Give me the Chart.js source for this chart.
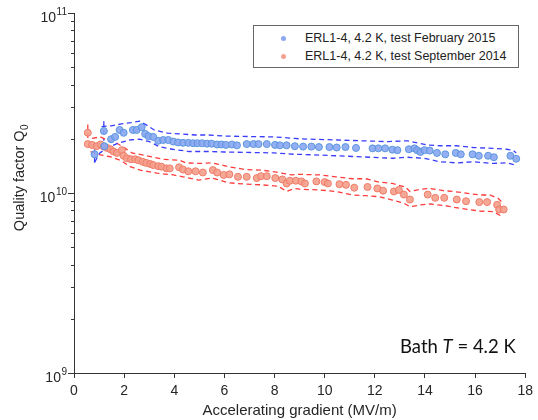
<!DOCTYPE html>
<html><head><meta charset="utf-8">
<script src="https://cdn.jsdelivr.net/npm/chart.js@4.4.0/dist/chart.umd.min.js"></script>
<style>
html,body{margin:0;padding:0;background:#fff;}
#wrap{position:relative;width:538px;height:420px;overflow:hidden;}
#c{position:absolute;left:0;top:0;}
#legend{position:absolute;left:253px;top:25px;width:264px;height:41px;border:1px solid #666;background:#fff;font-family:"Liberation Sans",Arial,sans-serif;font-size:12.5px;color:#222;}
.row{position:absolute;left:0;height:16px;line-height:16px;white-space:nowrap;}
.dot{position:absolute;width:5px;height:5px;border-radius:50%;top:5.5px;left:27px;}
.txt{position:absolute;left:51px;top:0;}
#bath{position:absolute;left:400px;top:336.5px;font-family:Lato,"Open Sans",sans-serif;font-size:18.5px;line-height:19px;color:#111;white-space:nowrap;}
</style></head>
<body><div id="wrap">
<canvas id="c" width="538" height="420"></canvas>
<div id="legend">
 <div class="row" style="top:4px"><span class="dot" style="background:#8aa8f2"></span><span class="txt">ERL1-4, 4.2 K, test February 2015</span></div>
 <div class="row" style="top:22px"><span class="dot" style="background:#f4a090"></span><span class="txt">ERL1-4, 4.2 K, test September 2014</span></div>
</div>
<div id="bath">Bath <i>T</i> = 4.2 K</div>
</div>
<script>
// ---- data (Q0 in units of 1e10) ----
const blueX = [0.82,1.19,1.21,1.48,1.64,1.82,1.98,2.35,2.50,2.70,2.84,2.97,3.16,3.36,3.56,3.76,3.96,4.15,4.35,4.56,4.75,4.92,5.11,5.31,5.49,5.71,5.88,6.06,6.30,6.50,6.89,7.16,7.36,7.69,8.02,8.21,8.48,8.81,9.14,9.47,9.77,10.19,10.48,10.83,11.25,11.91,12.14,12.41,12.70,12.90,13.36,13.58,13.69,13.82,13.98,14.19,14.48,14.81,15.23,15.43,15.90,16.15,16.52,16.75,17.41,17.64];
const blueQ = [1.64,2.21,1.82,1.99,2.05,2.24,2.16,2.24,2.24,2.32,2.13,2.07,2.05,1.95,1.97,1.97,1.93,1.91,1.90,1.90,1.89,1.89,1.89,1.88,1.88,1.86,1.86,1.85,1.86,1.84,1.87,1.87,1.87,1.87,1.85,1.84,1.84,1.82,1.81,1.81,1.80,1.80,1.79,1.80,1.78,1.77,1.77,1.77,1.74,1.73,1.75,1.77,1.73,1.69,1.73,1.72,1.67,1.64,1.67,1.64,1.64,1.61,1.61,1.58,1.61,1.55];
const redX = [0.55,0.55,0.72,0.90,1.06,1.19,1.32,1.45,1.58,1.71,1.91,1.98,2.11,2.27,2.44,2.57,2.74,2.88,3.04,3.16,3.36,3.49,3.69,3.82,4.19,4.35,4.56,4.85,5.14,5.54,5.71,5.97,6.20,6.54,6.89,7.29,7.46,7.69,8.03,8.31,8.48,8.61,8.85,9.07,9.21,9.67,10.00,10.13,10.59,10.85,11.18,11.71,12.10,12.33,12.76,12.96,13.16,13.40,14.11,14.41,14.77,15.27,15.64,16.17,16.48,16.88,16.96,17.14];
const redQ = [2.16,1.87,1.85,1.82,1.86,1.81,1.78,1.75,1.70,1.67,1.73,1.61,1.56,1.54,1.54,1.52,1.49,1.47,1.45,1.43,1.41,1.40,1.37,1.37,1.39,1.35,1.32,1.32,1.30,1.34,1.30,1.26,1.27,1.23,1.23,1.21,1.24,1.24,1.21,1.19,1.13,1.17,1.17,1.16,1.13,1.16,1.15,1.13,1.12,1.11,1.07,1.08,1.06,1.03,1.02,1.04,0.98,0.92,0.98,0.94,0.94,0.92,0.90,0.89,0.89,0.86,0.81,0.81];
// error-band envelopes (dashed)
const blueUpX = [1.10,1.49,1.89,2.28,2.61,2.88,3.20,3.73,4.19,4.85,5.38,6.0,8.0,8.8,9.0,10.5,12.5,13.3,14.08,14.61,15.27,15.93,16.72,17.25,17.51,17.64];
const blueUpQ = [2.34,2.36,2.42,2.46,2.51,2.39,2.24,2.15,2.13,2.10,2.10,2.07,2.05,2.01,2.00,1.97,1.93,1.95,1.85,1.83,1.83,1.79,1.77,1.75,1.73,1.67];
const blueLoX = [0.83,1.03,1.36,1.75,2.22,2.61,3.01,3.40,3.93,4.59,5.38,6.0,8.0,8.8,9.0,10.5,12.7,13.3,13.95,14.61,15.27,15.93,16.72,17.25,17.64];
const blueLoQ = [1.49,1.67,1.79,1.89,1.97,1.99,1.93,1.81,1.75,1.70,1.70,1.69,1.67,1.64,1.64,1.61,1.56,1.58,1.56,1.49,1.47,1.49,1.46,1.47,1.43];
const redUpX = [0.72,1.05,1.38,1.71,2.05,2.31,2.90,3.56,4.22,4.46,4.98,5.51,6.17,6.83,7.49,8.15,8.67,9.0,9.80,10.46,11.12,11.64,12.17,12.70,13.22,13.40,13.82,14.21,14.74,15.14,16.19,16.59,16.92,17.12];
const redUpQ = [2.01,2.05,1.95,1.89,1.77,1.67,1.61,1.54,1.52,1.47,1.46,1.47,1.40,1.35,1.34,1.30,1.26,1.27,1.26,1.23,1.20,1.20,1.15,1.13,1.08,1.02,1.05,1.06,1.03,1.02,0.975,0.975,0.935,0.877];
const redLoX = [0.66,1.05,1.45,1.85,2.24,2.64,3.30,3.96,4.35,4.98,5.51,6.17,6.83,7.49,8.15,8.48,8.81,9.0,9.80,10.46,11.12,11.64,12.17,12.70,13.16,13.40,13.82,14.21,14.87,15.40,16.19,16.72,17.05];
const redLoQ = [1.70,1.63,1.59,1.52,1.40,1.34,1.29,1.26,1.23,1.18,1.21,1.14,1.12,1.11,1.09,1.02,1.06,1.05,1.04,1.02,0.975,0.966,0.954,0.914,0.877,0.839,0.858,0.869,0.847,0.822,0.794,0.787,0.745];
// vertical error bars at low field
const redErrX = [0.55,0.55];   const redErrQ = [2.40,1.96];
const blueErr1X = [1.19,1.19]; const blueErr1Q = [2.50,1.95];
const blueErr2X = [0.82,0.82]; const blueErr2Q = [1.75,1.45];
// axis ticks
const xTicks = [0,2,4,6,8,10,12,14,16,18];
const yDecades = [1e9,1e10,1e11];
const yExpLabels = ['9','10','11'];

const SCALE = 1e10;
const AXIS = '#333333';
const TXT = '#262626';
const FONT = '"Liberation Sans", Arial, sans-serif';
const pts = (xs, qs) => xs.map((x,i)=>({x:x, y:qs[i]*SCALE}));

function band(xs, qs, color){
  return {data:pts(xs,qs), showLine:true, borderColor:color, borderWidth:1.3, borderDash:[5,3.5],
          pointRadius:0, pointHoverRadius:0, fill:false, tension:0};
}
const BLUE_D = '#3a3cff', RED_D = '#ff3b3b';

const yTicksPlugin = {
  id:'yTicksPlugin',
  afterDraw(chart){
    const ctx = chart.ctx, ys = chart.scales.y, L = chart.chartArea.left;
    ctx.save();
    ctx.strokeStyle = AXIS; ctx.lineWidth = 1;
    for (let d=0; d<yDecades.length; d++){
      const base = yDecades[d];
      for (let m=1; m<=9; m++){
        const v = base*m;
        if (v > yDecades[yDecades.length-1]*1.0001) break;
        const py = Math.round(ys.getPixelForValue(v)) + 0.5;
        const len = (m===1) ? 6 : 3;
        ctx.beginPath(); ctx.moveTo(L - len, py); ctx.lineTo(L, py); ctx.stroke();
      }
    }
    ctx.fillStyle = TXT; ctx.textAlign = 'right'; ctx.textBaseline = 'alphabetic';
    yDecades.forEach((v,i)=>{
      const py = ys.getPixelForValue(v);
      ctx.font = '10px ' + FONT;
      const ew = ctx.measureText(yExpLabels[i]).width;
      ctx.fillText(yExpLabels[i], 67, py + 1.5);
      ctx.font = '14px ' + FONT;
      ctx.fillText('10', 67 - ew - 0.5, py + 8.5);
    });
    ctx.save();
    ctx.translate(24, 178);
    ctx.rotate(-Math.PI/2);
    ctx.font = '14.5px ' + FONT;
    const main = 'Quality factor Q';
    const mw = ctx.measureText(main).width;
    ctx.font = '10px ' + FONT;
    const sw = ctx.measureText('0').width;
    const tot = mw + sw;
    ctx.textAlign = 'left';
    ctx.font = '14.5px ' + FONT;
    ctx.fillText(main, -tot/2, 0);
    ctx.font = '10px ' + FONT;
    ctx.fillText('0', -tot/2 + mw + 0.5, 4);
    ctx.restore();
    ctx.restore();
  }
};

new Chart(document.getElementById('c'), {
  type:'scatter',
  data:{datasets:[
    {data:pts(blueX,blueQ), pointRadius:3.5, pointBackgroundColor:'rgba(138,166,242,0.9)', pointBorderColor:'#5a96de', pointBorderWidth:1, showLine:false},
    {data:pts(redX,redQ), pointRadius:3.5, pointBackgroundColor:'rgba(245,158,140,0.9)', pointBorderColor:'#ee7c68', pointBorderWidth:1, showLine:false},
    band(blueUpX, blueUpQ, BLUE_D),
    band(blueLoX, blueLoQ, BLUE_D),
    band(redUpX, redUpQ, RED_D),
    band(redLoX, redLoQ, RED_D),
    band(redErrX, redErrQ, RED_D),
    band(blueErr1X, blueErr1Q, BLUE_D),
    band(blueErr2X, blueErr2Q, BLUE_D)
  ]},
  options:{
    responsive:false, animation:false, devicePixelRatio:1,
    layout:{padding:{left:0,right:9,top:13,bottom:0}},
    plugins:{legend:{display:false}, tooltip:{enabled:false}},
    scales:{
      x:{type:'linear', min:0, max:18,
         afterBuildTicks(s){ s.ticks = xTicks.map(v=>({value:v})); },
         afterFit(s){ s.height = 47; },
         ticks:{font:{size:14, family:FONT}, color:TXT, padding:5, maxRotation:0},
         grid:{drawOnChartArea:false, tickLength:5, color:AXIS, lineWidth:1},
         border:{color:AXIS, width:1},
         title:{display:true, text:'Accelerating gradient (MV/m)', color:TXT, font:{size:15, family:FONT}, padding:{top:0,bottom:0}}
      },
      y:{type:'logarithmic', min:1e9, max:1e11,
         afterFit(s){ s.width = 74; },
         ticks:{display:false},
         grid:{drawOnChartArea:false, drawTicks:false, color:AXIS},
         border:{color:AXIS, width:1}
      }
    }
  },
  plugins:[yTicksPlugin]
});
</script>
</body></html>
